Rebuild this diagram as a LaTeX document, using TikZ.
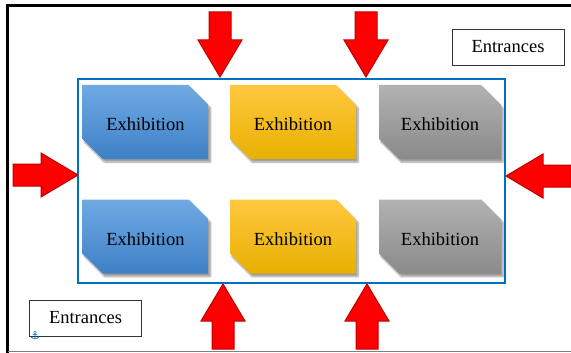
\documentclass[tikz,border=0pt]{standalone}
\usepackage{fontspec}
\setmainfont{Liberation Serif}
\newfontfamily\symfont{DejaVu Sans}
\usepackage{tikz}
\usetikzlibrary{shapes.misc,shadows.blur}
\definecolor{hallblue}{RGB}{0,112,192}
\definecolor{exblueA}{RGB}{112,170,228}
\definecolor{exblueB}{RGB}{62,128,198}
\definecolor{exyellA}{RGB}{255,200,64}
\definecolor{exyellB}{RGB}{232,176,0}
\definecolor{exgrayA}{RGB}{178,178,178}
\definecolor{exgrayB}{RGB}{138,138,138}
\definecolor{arrowred}{RGB}{255,0,0}
\definecolor{arrowdark}{RGB}{190,0,0}

\begin{document}
\begin{tikzpicture}[
  x=1pt, y=-1pt,
  every node/.style={font=\fontsize{18.5}{20}\selectfont},
  exhibit/.style={chamfered rectangle, chamfered rectangle corners={north east,south west},
    chamfered rectangle xsep=11pt, chamfered rectangle ysep=11pt,
    minimum width=126pt, minimum height=74pt, inner sep=0pt, text height=18pt, text depth=0pt,
    blur shadow={shadow xshift=2pt, shadow yshift=-3pt, shadow blur steps=6}},
  bluebox/.style={exhibit, top color=exblueA, bottom color=exblueB},
  yellowbox/.style={exhibit, top color=exyellA, bottom color=exyellB},
  graybox/.style={exhibit, top color=exgrayA, bottom color=exgrayB, minimum width=122pt},
  label/.style={draw=black!80, line width=0.8pt, minimum width=112pt, minimum height=36pt, fill=white},
  entryarrow/.pic={
    \draw[fill=arrowred, draw=arrowdark, line width=1pt, line join=miter]
      (0,0) -- (-22,-37) -- (-11,-37) -- (-11,-65) -- (11,-65) -- (11,-37) -- (22,-37) -- cycle;
  }
]
  \useasboundingbox (0,0) rectangle (571,353);

  % page frame
  \draw[line width=3pt] (7.5,353) -- (7.5,5.5) -- (571,5.5);
  \draw[gray, line width=1.5pt] (7.5,351.5) -- (571,351.5);

  % hall
  \draw[hallblue, line width=2pt] (78,79) rectangle (505,283);

  % exhibition rooms
  \node[bluebox]   (ex11) at (145.5,122) {Exhibition};
  \node[yellowbox] (ex12) at (293,122)   {Exhibition};
  \node[graybox]   (ex13) at (440,122)   {Exhibition};
  \node[bluebox]   (ex21) at (145.5,236.5) {Exhibition};
  \node[yellowbox] (ex22) at (293,236.5)   {Exhibition};
  \node[graybox]   (ex23) at (440,236.5)   {Exhibition};

  % entrances
  \pic at (220,77)  {entryarrow};
  \pic at (366,77)  {entryarrow};
  \pic[rotate=180] at (223,284) {entryarrow};
  \pic[rotate=180] at (367,284) {entryarrow};
  \pic[rotate=90]  at (78,175)  {entryarrow};
  \pic[rotate=-90] at (506,176) {entryarrow};

  \node[label] (entTop) at (508,47)  {Entrances};
  \node[label] (entBot) at (85.5,318) {Entrances};
  \node[text=hallblue, font=\symfont\fontsize{11}{11}\selectfont, inner sep=0pt] (anchor) at (35,336) {⚓};
\end{tikzpicture}
\end{document}
